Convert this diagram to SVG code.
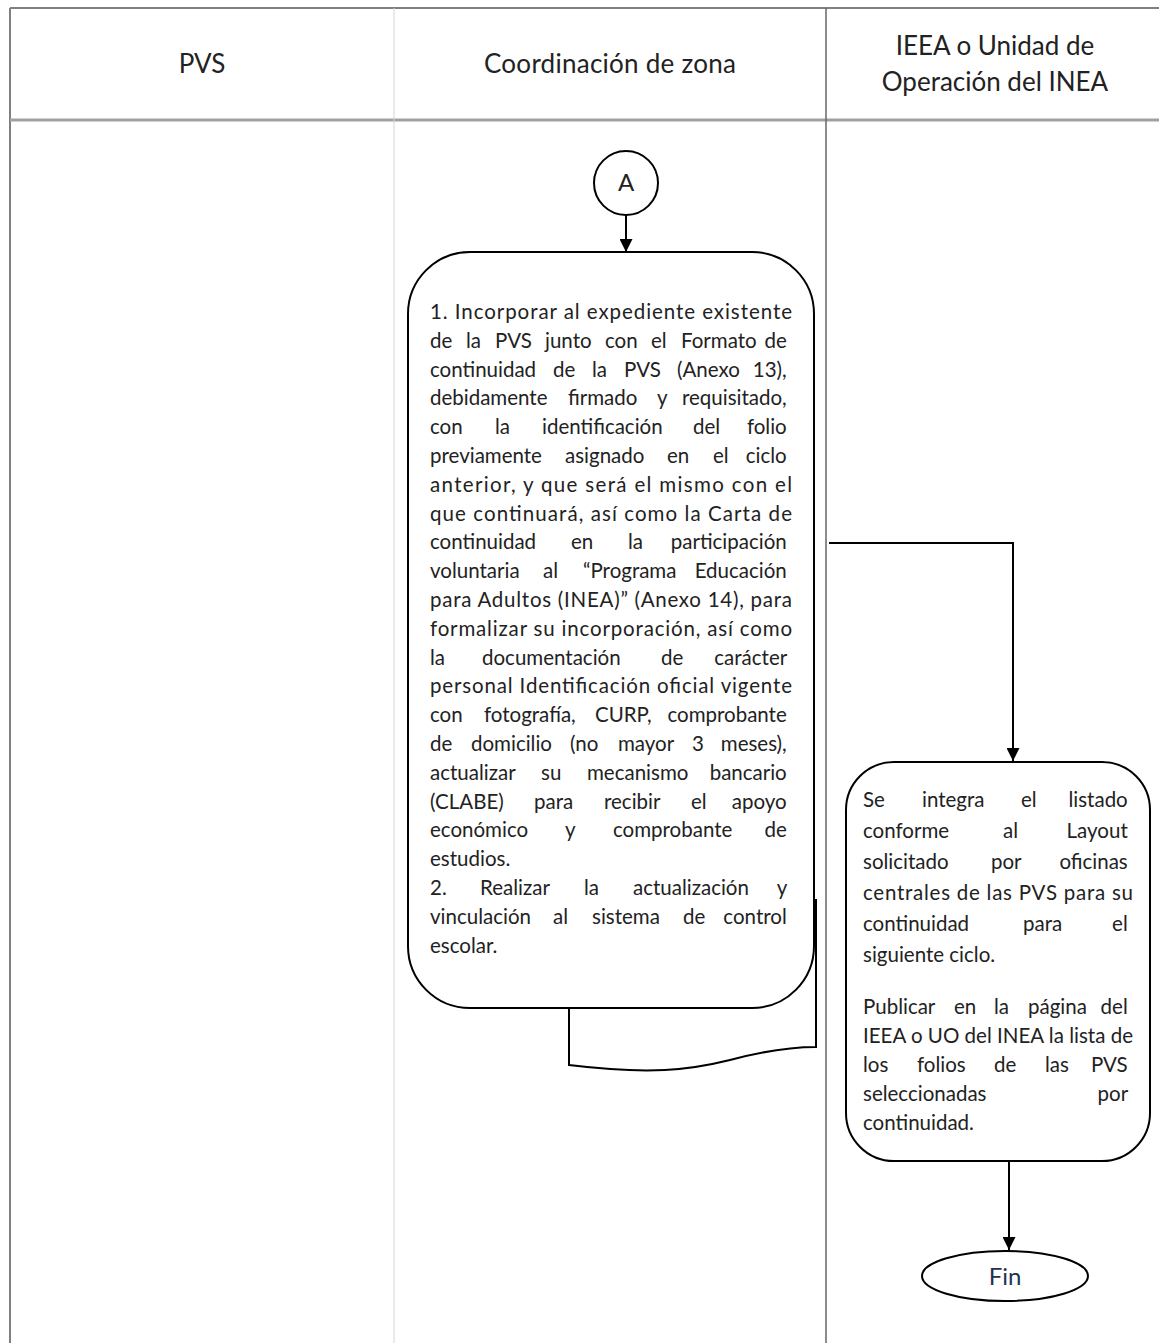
<svg xmlns="http://www.w3.org/2000/svg" width="1159" height="1343" viewBox="0 0 1159 1343">
<style>
.hdr{font-family:Lato,"Noto Sans","Liberation Sans",sans-serif;font-size:26px;fill:#222;text-anchor:middle}
.t{font-family:Lato,"Noto Sans","Liberation Sans",sans-serif;font-size:20.5px;fill:#222}
.big{font-size:24px}
.shape{fill:#fff;stroke:#000;stroke-width:2}
.conn{fill:none;stroke:#000;stroke-width:2}
</style>
<defs>
<marker id="arr" viewBox="0 0 10 10" refX="10" refY="5" markerWidth="14" markerHeight="13" markerUnits="userSpaceOnUse" orient="auto">
<path d="M0,0 L10,5 L0,10 z" fill="#000"/>
</marker>
</defs>
<rect width="1159" height="1343" fill="#fff"/>
<g id="lanes">
<line x1="10" y1="8" x2="1159" y2="8" stroke="#808080" stroke-width="2"/>
<line x1="10" y1="8" x2="10" y2="1343" stroke="#808080" stroke-width="2"/>
<line x1="10" y1="120" x2="1159" y2="120" stroke="#a0a0a0" stroke-width="3"/>
<line x1="394" y1="8" x2="394" y2="1343" stroke="#d4d4d4" stroke-width="1"/>
<line x1="826" y1="8" x2="826" y2="1343" stroke="#666" stroke-width="1.5"/>
<text class="hdr" x="610" y="73" textLength="252" lengthAdjust="spacing">Coordinación de zona</text>
<text class="hdr" x="202" y="73">PVS</text>
<text class="hdr" x="995" y="55">IEEA o Unidad de</text>
<text class="hdr" x="995" y="91">Operación del INEA</text>
</g>
<g id="connectors">
<line class="conn" x1="626" y1="215" x2="626" y2="252" marker-end="url(#arr)"/>
<polyline class="conn" points="829,543 1013,543 1013,761" marker-end="url(#arr)"/>
<line class="conn" x1="1009" y1="1161" x2="1009" y2="1250" marker-end="url(#arr)"/>
</g>
<g id="nodeA">
<circle class="shape" cx="626" cy="183" r="32"/>
<text class="t big" x="626" y="191" text-anchor="middle">A</text>
</g>
<g id="node1">
<path class="shape" d="M569,900 L816,900 L816,1047 C790,1047 760,1052 730,1060 C690,1070 650,1075 569,1065 Z"/>
<rect class="shape" x="408" y="252" width="406" height="756" rx="62" ry="62"/>
<text class="t">
<tspan x="430" y="319" textLength="362" lengthAdjust="spacing">1. Incorporar al expediente existente</tspan>
<tspan x="430" y="347.8">de</tspan><tspan x="466" y="347.8">la</tspan><tspan x="495" y="347.8">PVS</tspan><tspan x="545" y="347.8">junto</tspan><tspan x="605" y="347.8">con</tspan><tspan x="651" y="347.8">el</tspan><tspan x="681" y="347.8">Formato</tspan><tspan x="792" y="347.8" text-anchor="end">de</tspan>
<tspan x="430" y="376.6">continuidad</tspan><tspan x="553" y="376.6">de</tspan><tspan x="592" y="376.6">la</tspan><tspan x="624" y="376.6">PVS</tspan><tspan x="677" y="376.6">(Anexo</tspan><tspan x="792" y="376.6" text-anchor="end">13),</tspan>
<tspan x="430" y="405.4">debidamente</tspan><tspan x="568" y="405.4">firmado</tspan><tspan x="657" y="405.4">y</tspan><tspan x="792" y="405.4" text-anchor="end">requisitado,</tspan>
<tspan x="430" y="434.2">con</tspan><tspan x="495" y="434.2">la</tspan><tspan x="542" y="434.2">identificación</tspan><tspan x="693" y="434.2">del</tspan><tspan x="792" y="434.2" text-anchor="end">folio</tspan>
<tspan x="430" y="463">previamente</tspan><tspan x="565" y="463">asignado</tspan><tspan x="667" y="463">en</tspan><tspan x="713" y="463">el</tspan><tspan x="792" y="463" text-anchor="end">ciclo</tspan>
<tspan x="430" y="491.8" textLength="362" lengthAdjust="spacing">anterior, y que será el mismo con el</tspan>
<tspan x="430" y="520.6" textLength="362" lengthAdjust="spacing">que continuará, así como la Carta de</tspan>
<tspan x="430" y="549.4">continuidad</tspan><tspan x="571" y="549.4">en</tspan><tspan x="628" y="549.4">la</tspan><tspan x="792" y="549.4" text-anchor="end">participación</tspan>
<tspan x="430" y="578.2">voluntaria</tspan><tspan x="543" y="578.2">al</tspan><tspan x="583" y="578.2">“Programa</tspan><tspan x="792" y="578.2" text-anchor="end">Educación</tspan>
<tspan x="430" y="607" textLength="362" lengthAdjust="spacing">para Adultos (INEA)” (Anexo 14), para</tspan>
<tspan x="430" y="635.8" textLength="362" lengthAdjust="spacing">formalizar su incorporación, así como</tspan>
<tspan x="430" y="664.6">la</tspan><tspan x="482" y="664.6">documentación</tspan><tspan x="661" y="664.6">de</tspan><tspan x="792" y="664.6" text-anchor="end">carácter</tspan>
<tspan x="430" y="693.4" textLength="362" lengthAdjust="spacing">personal Identificación oficial vigente</tspan>
<tspan x="430" y="722.2">con</tspan><tspan x="484" y="722.2">fotografía,</tspan><tspan x="595" y="722.2">CURP,</tspan><tspan x="792" y="722.2" text-anchor="end">comprobante</tspan>
<tspan x="430" y="751">de</tspan><tspan x="471" y="751">domicilio</tspan><tspan x="570" y="751">(no</tspan><tspan x="618" y="751">mayor</tspan><tspan x="692" y="751">3</tspan><tspan x="792" y="751" text-anchor="end">meses),</tspan>
<tspan x="430" y="779.8">actualizar</tspan><tspan x="541" y="779.8">su</tspan><tspan x="587" y="779.8">mecanismo</tspan><tspan x="792" y="779.8" text-anchor="end">bancario</tspan>
<tspan x="430" y="808.6">(CLABE)</tspan><tspan x="534" y="808.6">para</tspan><tspan x="604" y="808.6">recibir</tspan><tspan x="691" y="808.6">el</tspan><tspan x="792" y="808.6" text-anchor="end">apoyo</tspan>
<tspan x="430" y="837.4">económico</tspan><tspan x="565" y="837.4">y</tspan><tspan x="613" y="837.4">comprobante</tspan><tspan x="792" y="837.4" text-anchor="end">de</tspan>
<tspan x="430" y="866.2">estudios.</tspan>
<tspan x="430" y="895">2.</tspan><tspan x="480" y="895">Realizar</tspan><tspan x="584" y="895">la</tspan><tspan x="633" y="895">actualización</tspan><tspan x="792" y="895" text-anchor="end">y</tspan>
<tspan x="430" y="923.8">vinculación</tspan><tspan x="553" y="923.8">al</tspan><tspan x="592" y="923.8">sistema</tspan><tspan x="683" y="923.8">de</tspan><tspan x="792" y="923.8" text-anchor="end">control</tspan>
<tspan x="430" y="952.6">escolar.</tspan>
</text>
</g>
<g id="node2">
<rect class="shape" x="846" y="762" width="304" height="399" rx="48" ry="48"/>
<text class="t">
<tspan x="863" y="807">Se</tspan><tspan x="922" y="807">integra</tspan><tspan x="1021" y="807">el</tspan><tspan x="1133" y="807" text-anchor="end">listado</tspan>
<tspan x="863" y="838">conforme</tspan><tspan x="1003" y="838">al</tspan><tspan x="1133" y="838" text-anchor="end">Layout</tspan>
<tspan x="863" y="869">solicitado</tspan><tspan x="991" y="869">por</tspan><tspan x="1133" y="869" text-anchor="end">oficinas</tspan>
<tspan x="863" y="900" textLength="270" lengthAdjust="spacing">centrales de las PVS para su</tspan>
<tspan x="863" y="931">continuidad</tspan><tspan x="1023" y="931">para</tspan><tspan x="1133" y="931" text-anchor="end">el</tspan>
<tspan x="863" y="962">siguiente ciclo.</tspan>
<tspan x="863" y="1014">Publicar</tspan><tspan x="954" y="1014">en</tspan><tspan x="994" y="1014">la</tspan><tspan x="1028" y="1014">página</tspan><tspan x="1133" y="1014" text-anchor="end">del</tspan>
<tspan x="863" y="1043" textLength="270" lengthAdjust="spacing">IEEA o UO del INEA la lista de</tspan>
<tspan x="863" y="1072">los</tspan><tspan x="917" y="1072">folios</tspan><tspan x="994" y="1072">de</tspan><tspan x="1045" y="1072">las</tspan><tspan x="1133" y="1072" text-anchor="end">PVS</tspan>
<tspan x="863" y="1101">seleccionadas</tspan><tspan x="1133" y="1101" text-anchor="end">por</tspan>
<tspan x="863" y="1130">continuidad.</tspan>
</text>
</g>
<g id="nodeFin">
<ellipse class="shape" cx="1005" cy="1276" rx="83" ry="25"/>
<text class="t big" x="1005" y="1285" text-anchor="middle" style="fill:#1f3350">Fin</text>
</g>
</svg>
